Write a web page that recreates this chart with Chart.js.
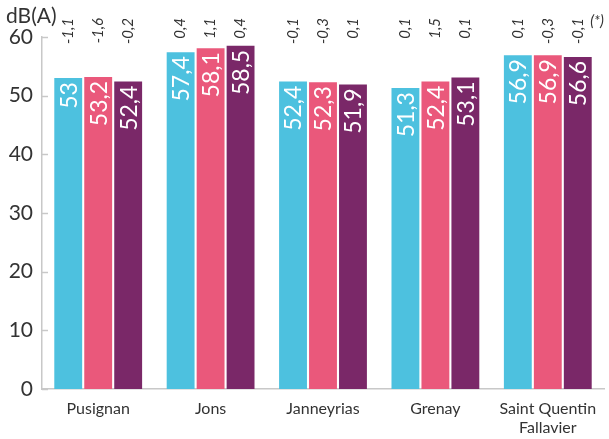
<!DOCTYPE html>
<html>
<head>
<meta charset="utf-8">
<script src="https://cdn.jsdelivr.net/npm/chart.js@4"></script>
<style>
  html, body { margin: 0; padding: 0; background: #fff; }
  #wrap { width: 609px; height: 439px; position: relative; }
</style>
</head>
<body>
<div id="wrap"><canvas id="chart"></canvas></div>
<script>
// Data
const categories = ['Pusignan', 'Jons', 'Janneyrias', 'Grenay', ['Saint Quentin', 'Fallavier']];
const serie1 = [53, 57.4, 52.4, 51.3, 56.9];
const serie2 = [53.2, 58.1, 52.3, 52.4, 56.9];
const serie3 = [52.4, 58.5, 51.9, 53.1, 56.6];
const delta1 = [-1.1, 0.4, -0.1, 0.1, 0.1];
const delta2 = [-1.6, 1.1, -0.3, 1.5, -0.3];
const delta3 = [-0.2, 0.4, 0.1, 0.1, -0.1];
const yTicks = [0, 10, 20, 30, 40, 50, 60];

const colors = ['#4dc1df', '#ea587b', '#7a2868'];
const deltas = [delta1, delta2, delta3];
const FONT = 'Lato, "Noto Sans", sans-serif';

function fmt(v) {
  return String(v).replace('.', ',');
}

// Custom drawing: value labels, deltas, unit, inner ticks
const labelsPlugin = {
  id: 'labels',
  afterDatasetsDraw(chart) {
    const ctx = chart.ctx;
    const yScale = chart.scales.y;
    const area = chart.chartArea;
    ctx.save();

    chart.data.datasets.forEach((ds, di) => {
      const meta = chart.getDatasetMeta(di);
      meta.data.forEach((bar, i) => {
        // value inside bar
        ctx.save();
        ctx.translate(bar.x, bar.y + 4);
        ctx.rotate(-Math.PI / 2);
        ctx.fillStyle = '#fff';
        ctx.font = '23px ' + FONT;
        ctx.textAlign = 'right';
        ctx.textBaseline = 'middle';
        ctx.fillText(fmt(ds.data[i]), 0, 1);
        ctx.restore();

        // delta above chart
        ctx.save();
        ctx.translate(bar.x, 18);
        ctx.rotate(-Math.PI / 2);
        ctx.fillStyle = '#333';
        ctx.font = 'italic 15px ' + FONT;
        ctx.textAlign = 'right';
        ctx.textBaseline = 'middle';
        ctx.fillText(fmt(deltas[di][i]), 0, 0);
        ctx.restore();
      });
    });

    ctx.fillStyle = '#333';
    ctx.font = 'italic 15px ' + FONT;
    ctx.textAlign = 'center';
    ctx.textBaseline = 'middle';
    ctx.fillText('(*)', 597, 21);

    ctx.font = '21px ' + FONT;
    ctx.textAlign = 'left';
    ctx.fillText('dB(A)', 6, 16);

    // short ticks pointing into the chart
    ctx.strokeStyle = '#c8c8c8';
    ctx.lineWidth = 1.5;
    yTicks.forEach(t => {
      const py = Math.round(yScale.getPixelForValue(t)) + 0.5;
      ctx.beginPath();
      ctx.moveTo(area.left, py);
      ctx.lineTo(area.left + 6, py);
      ctx.stroke();
    });
    ctx.restore();
  }
};

new Chart(document.getElementById('chart'), {
  type: 'bar',
  data: {
    labels: categories,
    datasets: [
      { data: serie1, backgroundColor: colors[0] },
      { data: serie2, backgroundColor: colors[1] },
      { data: serie3, backgroundColor: colors[2] }
    ]
  },
  options: {
    responsive: true,
    maintainAspectRatio: false,
    animation: false,
    datasets: {
      bar: { categoryPercentage: 0.8, barPercentage: 0.93 }
    },
    layout: { padding: { top: 37, right: 5, left: 0, bottom: 0 } },
    plugins: {
      legend: { display: false },
      tooltip: { enabled: false }
    },
    scales: {
      x: {
        grid: { display: false, drawTicks: false },
        border: { color: '#c8c8c8', width: 1.5 },
        ticks: {
          color: '#333',
          font: { family: FONT, size: 16 },
          padding: 10,
          maxRotation: 0,
          autoSkip: false
        },
        afterFit(scale) { scale.height = 50; }
      },
      y: {
        min: 0,
        max: 60,
        grid: { display: false, drawTicks: false },
        border: { color: '#c8c8c8', width: 1.5 },
        ticks: {
          stepSize: 10,
          color: '#333',
          font: { family: FONT, size: 21 },
          padding: 9
        },
        afterFit(scale) { scale.width = 42; }
      }
    }
  },
  plugins: [labelsPlugin]
});
</script>
</body>
</html>
